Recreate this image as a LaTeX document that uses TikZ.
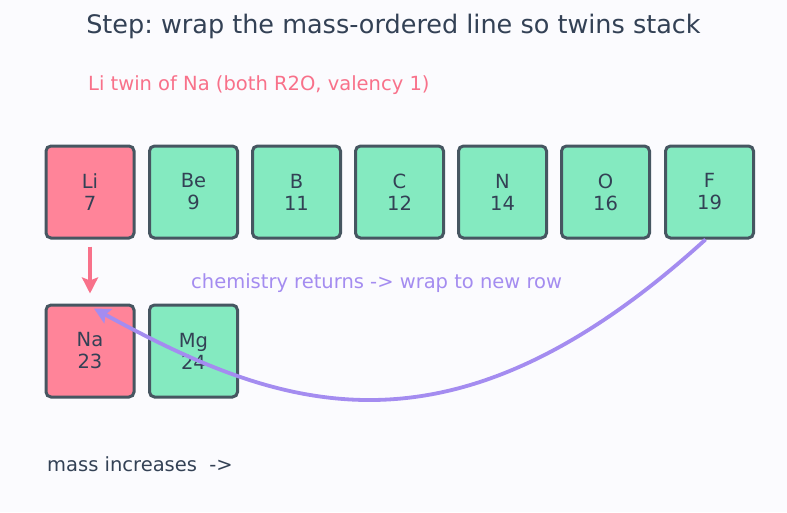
\documentclass[tikz,border=0pt]{standalone}
\usepackage{fontspec}
\setmainfont{DejaVu Sans}
\usetikzlibrary{arrows.meta}
\definecolor{bgc}{HTML}{FBFBFE}
\definecolor{redf}{HTML}{FF8499}
\definecolor{greenf}{HTML}{84EAC0}
\definecolor{edgec}{HTML}{465661}
\definecolor{txt}{HTML}{334155}
\definecolor{reda}{HTML}{F8718A}
\definecolor{purp}{HTML}{A48CF0}
\tikzset{
  elem/.style={draw=edgec, line width=3pt, rounded corners=5pt, minimum width=88pt, minimum height=92pt, inner sep=0pt, align=center, text=txt, font=\fontsize{19.5pt}{22pt}\selectfont},
  twin/.style={elem, fill=redf},
  plain/.style={elem, fill=greenf},
  tip/.style={-{Stealth[length=16pt,width=16pt,inset=3pt]}},
}
\frenchspacing
\begin{document}
\begin{tikzpicture}[x=1pt,y=-1pt]
\fill[bgc] (0,0) rectangle (787,512);
\useasboundingbox (0,0) rectangle (787,512);
\node[font=\fontsize{25.5pt}{30pt}\selectfont, text=txt] (title) at (393.5,26) {Step: wrap the mass-ordered line so twins stack};
\node[font=\fontsize{19.5pt}{22pt}\selectfont, text=reda, anchor=west, inner sep=0pt] (lbl) at (88,85) {Li twin of Na (both R2O, valency 1)};
\node[twin] (Li) at (90,192) {Li\\7};
\node[plain] (Be) at (193.5,192) {Be\\9};
\node[plain] (B) at (296.5,192) {B\\11};
\node[plain] (C) at (399.5,192) {C\\12};
\node[plain] (N) at (502.5,192) {N\\14};
\node[plain] (O) at (605.5,192) {O\\16};
\node[plain] (F) at (709.5,192) {F\\19};
\node[twin] (Na) at (90,351) {Na\\23};
\node[plain] (Mg) at (193.5,351) {Mg\\24};
\node[font=\fontsize{19.5pt}{22pt}\selectfont, text=purp, anchor=west, inner sep=0pt] (ret) at (191,283) {chemistry returns -> wrap to new row};
\node[font=\fontsize{19.5pt}{22pt}\selectfont, text=txt, anchor=west, inner sep=0pt] (mass) at (47,464) {mass increases\ \ ->};
\draw[reda, line width=3.8pt, tip] ([yshift=-7pt]Li.south) -- ([yshift=10pt]Na.north);
\coordinate (fs) at ([xshift=-4pt]F.south);
\coordinate (ne) at ([xshift=4pt,yshift=-5pt]Na.north);
\draw[purp, line width=3.8pt, tip] (fs) .. controls (450,472) and (280,410) .. (ne);
\end{tikzpicture}
\end{document}
